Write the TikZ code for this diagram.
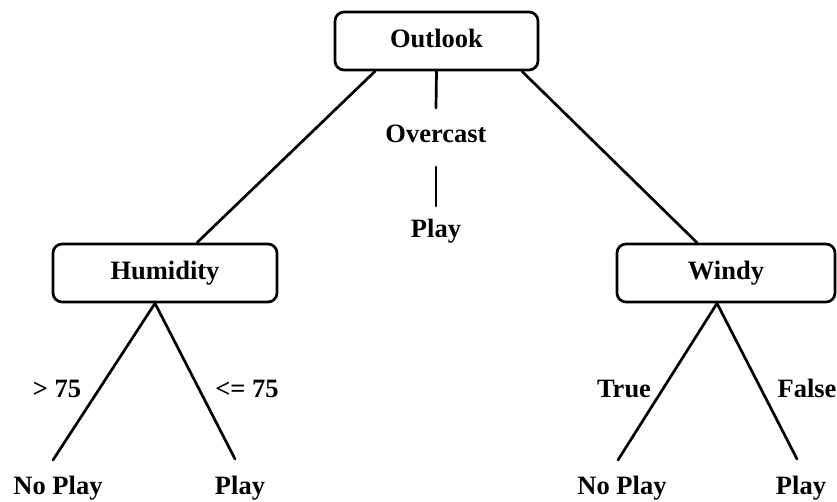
\documentclass[tikz,border=0pt]{standalone}
\usepackage{fontspec}
\setmainfont{Liberation Serif}
\begin{document}
\begin{tikzpicture}[x=1pt,y=-1pt,
  every node/.style={font=\fontsize{26.5}{30}\selectfont\bfseries, inner sep=0pt},
  boxnode/.style={draw, line width=2.7pt, rounded corners=9pt, minimum height=58pt, text height=18pt, text depth=5pt},
  txt/.style={anchor=base},
  edge/.style={line width=2.7pt, line cap=round}]
\useasboundingbox (0,0) rectangle (837,502);
% boxes
\node[boxnode, minimum width=203pt] (out) at (436.5,41) {Outlook};
\node[boxnode, minimum width=224pt] (hum) at (165,273) {Humidity};
\node[boxnode, minimum width=218pt] (win) at (726,273) {Windy};
% middle branch
\node[txt] (ovc) at (436,143) {Overcast};
\node[txt] (mplay) at (436,238) {Play};
\coordinate (v1) at (436,108);
\coordinate (v2) at (436,167);
\coordinate (v3) at (436,206);
\draw[edge] (out.south) -- (v1);
\draw[edge] (v2) -- (v3);
% main branches
\draw[edge] ([xshift=-61.5pt]out.south) -- ([xshift=32pt]hum.north);
\draw[edge] ([xshift=85.5pt]out.south) -- ([xshift=-29pt]win.north);
% humidity leaves
\coordinate (h1) at (53,460);
\coordinate (h2) at (235,459);
\draw[edge] ([xshift=-10pt]hum.south) -- (h1);
\draw[edge] ([xshift=-10pt]hum.south) -- (h2);
\node[txt] (gt) at (57,397) {> 75};
\node[txt] (le) at (247,397) {<= 75};
\node[txt] (hnp) at (58,494) {No Play};
\node[txt] (hp) at (240,494) {Play};
% windy leaves
\coordinate (w1) at (618,460);
\coordinate (w2) at (797,459);
\draw[edge] ([xshift=-9pt]win.south) -- (w1);
\draw[edge] ([xshift=-9pt]win.south) -- (w2);
\node[txt] (tr) at (624,397) {True};
\node[txt] (fa) at (807,397) {False};
\node[txt] (wnp) at (622,494) {No Play};
\node[txt] (wp) at (801,494) {Play};
\end{tikzpicture}
\end{document}
